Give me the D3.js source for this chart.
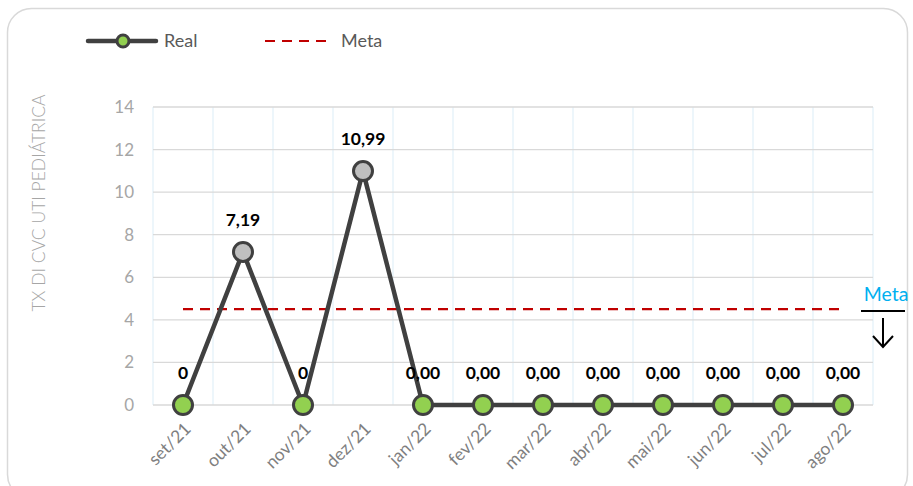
<!DOCTYPE html>
<html>
<head>
<meta charset="utf-8">
<script src="https://cdn.jsdelivr.net/npm/d3@7"></script>
<style>
  body { margin: 0; background: #fff; }
  text { font-family: Lato, "Open Sans", sans-serif; }
</style>
</head>
<body>
<svg width="913" height="486"></svg>
<script>
var months = ["set/21", "out/21", "nov/21", "dez/21", "jan/22", "fev/22", "mar/22", "abr/22", "mai/22", "jun/22", "jul/22", "ago/22"];
var real = [0, 7.19, 0, 10.99, 0, 0, 0, 0, 0, 0, 0, 0];
var realLabels = ["0", "7,19", "0", "10,99", "0,00", "0,00", "0,00", "0,00", "0,00", "0,00", "0,00", "0,00"];
var meta = 4.5;
var yTicks = [0, 2, 4, 6, 8, 10, 12, 14];

var svg = d3.select("svg");

// card
svg.append("rect")
  .attr("x", 7.5).attr("y", 8.5)
  .attr("width", 900).attr("height", 490)
  .attr("rx", 24)
  .attr("fill", "#fff")
  .attr("stroke", "#d9d9d9")
  .attr("stroke-width", 1.5);

var margin = { top: 107, right: 40, bottom: 81, left: 153 };
var width = 873 - margin.left;
var height = 405 - margin.top;

var g = svg.append("g")
  .attr("transform", "translate(" + margin.left + "," + margin.top + ")");

var x = d3.scaleBand().domain(months).range([0, width]);
var y = d3.scaleLinear().domain([0, 14]).range([height, 0]);
var cx = function(d) { return x(d) + x.bandwidth() / 2; };

// vertical grid
g.append("g").selectAll("line")
  .data(months.concat(["end"]))
  .join("line")
  .attr("x1", function(d, i) { return i * x.step(); })
  .attr("x2", function(d, i) { return i * x.step(); })
  .attr("y1", 0).attr("y2", height)
  .attr("stroke", "#e3f1f9")
  .attr("stroke-width", 1.3);

// horizontal grid
g.append("g").selectAll("line")
  .data(yTicks)
  .join("line")
  .attr("x1", 0).attr("x2", width)
  .attr("y1", function(d) { return y(d); })
  .attr("y2", function(d) { return y(d); })
  .attr("stroke", "#d9d9d9")
  .attr("stroke-width", 1.3);

// y axis labels
var yAxis = g.append("g")
  .call(d3.axisLeft(y).tickValues(yTicks).tickSize(0).tickPadding(19));
yAxis.select(".domain").remove();
yAxis.selectAll("text")
  .attr("fill", "#a6a6a6")
  .style("font-size", "17px");

// x axis labels
var xAxis = g.append("g")
  .attr("transform", "translate(0," + height + ")")
  .call(d3.axisBottom(x).tickSize(0).tickPadding(0));
xAxis.select(".domain").remove();
xAxis.selectAll("text")
  .attr("fill", "#7f7f7f")
  .style("font-size", "17.5px")
  .attr("text-anchor", "end")
  .attr("dy", 0)
  .attr("transform", "translate(9,25) rotate(-45)");

// y axis title
svg.append("text")
  .attr("transform", "translate(45,203) rotate(-90)")
  .attr("text-anchor", "middle")
  .attr("fill", "#a6a6a6")
  .style("font-size", "17.5px")
  .style("font-weight", "300")
  .text("TX DI CVC UTI PEDIÁTRICA");

// meta line
g.append("line")
  .attr("x1", cx(months[0]))
  .attr("x2", cx(months[months.length - 1]))
  .attr("y1", y(meta)).attr("y2", y(meta))
  .attr("stroke", "#c00000")
  .attr("stroke-width", 2.2)
  .attr("stroke-dasharray", "10,7");

// real line
var line = d3.line()
  .x(function(d, i) { return cx(months[i]); })
  .y(function(d) { return y(d); });

g.append("path")
  .datum(real)
  .attr("d", line)
  .attr("fill", "none")
  .attr("stroke", "#404040")
  .attr("stroke-width", 4.5);

g.append("g").selectAll("circle")
  .data(real)
  .join("circle")
  .attr("cx", function(d, i) { return cx(months[i]); })
  .attr("cy", function(d) { return y(d); })
  .attr("r", 9.5)
  .attr("fill", function(d) { return d > 0 ? "#bfbfbf" : "#92d050"; })
  .attr("stroke", "#404040")
  .attr("stroke-width", 3);

// data labels
g.append("g").selectAll("text")
  .data(real)
  .join("text")
  .attr("x", function(d, i) { return cx(months[i]); })
  .attr("y", function(d) { return y(d) - 26; })
  .attr("text-anchor", "middle")
  .attr("fill", "#000")
  .style("font-size", "17.5px")
  .style("font-weight", "bold")
  .text(function(d, i) { return realLabels[i]; });

// meta annotation
var ann = svg.append("g");
ann.append("text")
  .attr("x", 886).attr("y", 301)
  .attr("text-anchor", "middle")
  .attr("fill", "#00b0f0")
  .style("font-size", "19.5px")
  .text("Meta");
ann.append("line")
  .attr("x1", 861).attr("x2", 905)
  .attr("y1", 311).attr("y2", 311)
  .attr("stroke", "#000").attr("stroke-width", 2);
ann.append("path")
  .attr("d", "M883,318 L883,347 M873,336 L883,347 L893,336")
  .attr("fill", "none")
  .attr("stroke", "#000").attr("stroke-width", 2);

// legend
var leg = svg.append("g");
leg.append("line")
  .attr("x1", 88).attr("x2", 156).attr("y1", 41).attr("y2", 41)
  .attr("stroke", "#404040").attr("stroke-width", 4.5).attr("stroke-linecap", "round");
leg.append("circle")
  .attr("cx", 123).attr("cy", 41).attr("r", 6)
  .attr("fill", "#92d050").attr("stroke", "#404040").attr("stroke-width", 3);
leg.append("text")
  .attr("x", 164).attr("y", 47)
  .attr("fill", "#595959").style("font-size", "18px")
  .text("Real");
leg.append("line")
  .attr("x1", 265).attr("x2", 331).attr("y1", 41).attr("y2", 41)
  .attr("stroke", "#c00000").attr("stroke-width", 2.2).attr("stroke-dasharray", "10,7");
leg.append("text")
  .attr("x", 341).attr("y", 47)
  .attr("fill", "#595959").style("font-size", "18px")
  .text("Meta");
</script>
</body>
</html>
